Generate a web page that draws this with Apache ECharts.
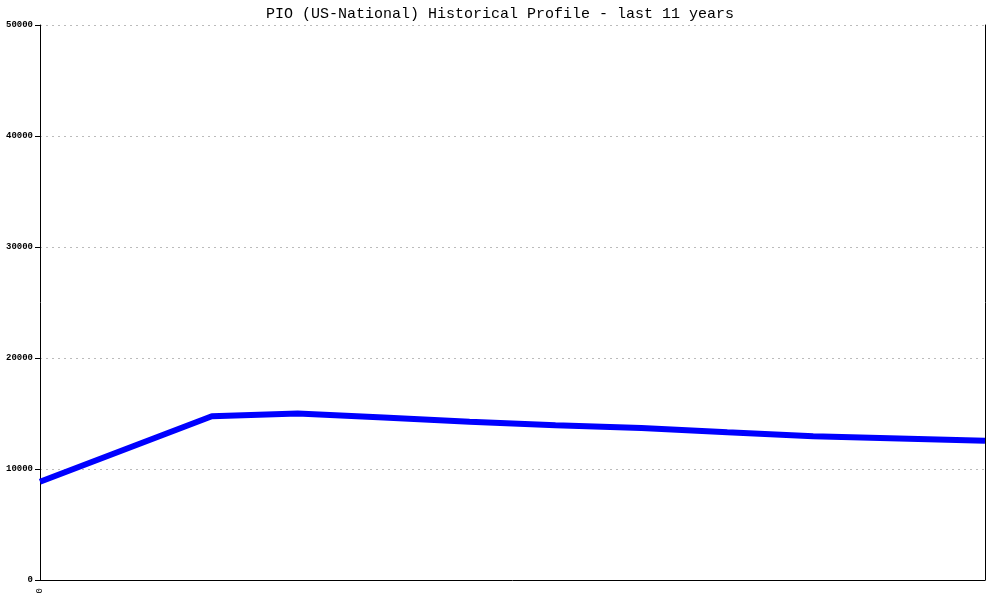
<!DOCTYPE html>
<html>
<head>
<meta charset="utf-8">
<script src="https://cdn.jsdelivr.net/npm/echarts@6/dist/echarts.min.js"></script>
<style>html,body{margin:0;padding:0;background:#fff;}#c{width:1000px;height:600px;}</style>
</head>
<body>
<div id="c"></div>
<script>
var titleText = 'PIO (US-National) Historical Profile - last 11 years';
var categories = ['0','1','2','3','4','5','6','7','8','9','10','11'];
var values = [8850, 11800, 14750, 15000, 14650, 14250, 13950, 13700, 13300, 12950, 12750, 12550];
var yTicks = [0, 10000, 20000, 30000, 40000, 50000];

var chart = echarts.init(document.getElementById('c'), null, {renderer: 'canvas'});
chart.setOption({
  animation: false,
  backgroundColor: '#ffffff',
  title: {
    text: titleText,
    left: 'center',
    top: 2,
    textStyle: {fontFamily: 'Liberation Mono', fontSize: 15, fontWeight: 'normal', color: '#000'}
  },
  grid: {left: 40, right: 15, top: 25, bottom: 20, containLabel: false},
  xAxis: {
    type: 'category',
    data: categories,
    boundaryGap: false,
    axisLine: {lineStyle: {color: '#000', width: 1}},
    axisTick: {show: false},
    axisLabel: {
      interval: 0,
      rotate: 90,
      margin: 8,
      fontFamily: 'Liberation Mono',
      fontSize: 9,
      color: '#000',
      formatter: function (v, i) { return i === 0 ? v : ''; }
    },
    splitLine: {show: false}
  },
  yAxis: [{
    type: 'value',
    min: yTicks[0],
    max: yTicks[yTicks.length - 1],
    interval: 10000,
    axisLine: {show: true, lineStyle: {color: '#000', width: 1}},
    axisTick: {show: true, length: 5, lineStyle: {color: '#000'}},
    axisLabel: {margin: 7, fontFamily: 'Liberation Mono', fontSize: 9, fontWeight: 'bold', color: '#000',
      formatter: function (v) { return String(v); }},
    splitLine: {show: true, lineStyle: {color: '#bbbbbb', type: [2, 4], width: 1}}
  }, {
    type: 'value',
    position: 'right',
    min: yTicks[0],
    max: yTicks[yTicks.length - 1],
    interval: 10000,
    axisLine: {show: true, lineStyle: {color: '#000', width: 1}},
    axisTick: {show: false},
    axisLabel: {show: false},
    splitLine: {show: false}
  }],
  series: [{
    type: 'line',
    data: values,
    showSymbol: false,
    symbol: 'none',
    lineStyle: {color: '#0000ff', width: 6},
    itemStyle: {color: '#0000ff'}
  }]
});
</script>
</body>
</html>
